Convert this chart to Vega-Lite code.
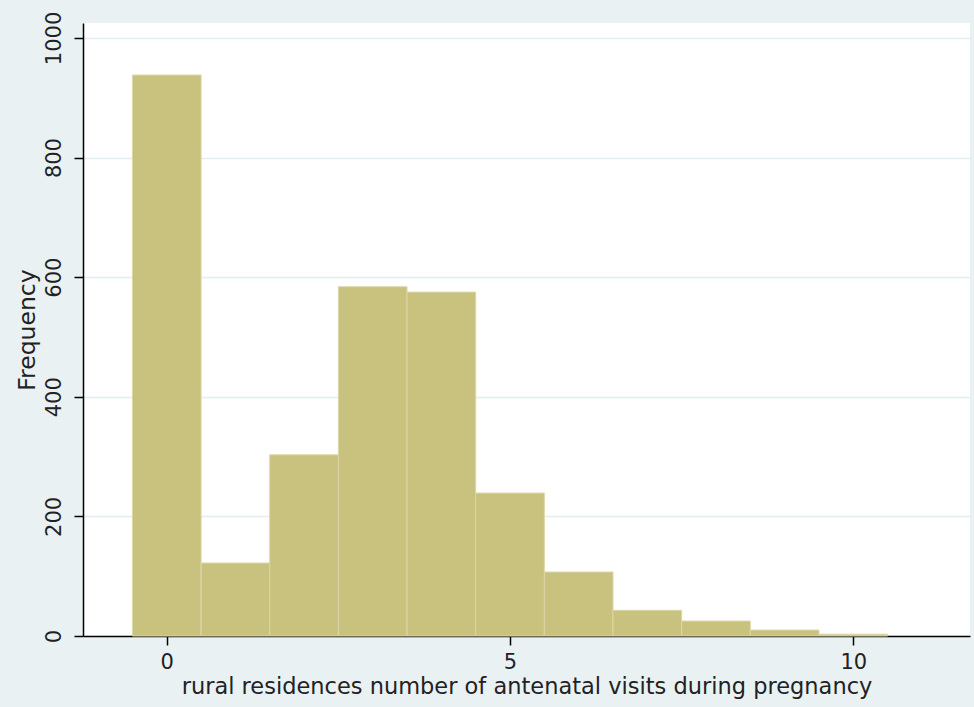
{
  "$schema": "https://vega.github.io/schema/vega-lite/v6.json",
  "autosize": "none",
  "width": 887,
  "height": 613,
  "padding": {"left": 83, "top": 23, "right": 4, "bottom": 71},
  "background": "#eaf1f3",
  "config": {
    "view": {"fill": "white", "stroke": null},
    "font": "DejaVu Sans"
  },
  "data": {
    "values": [
      {"start": -0.5, "end": 0.5, "freq": 938},
      {"start": 0.5, "end": 1.5, "freq": 122},
      {"start": 1.5, "end": 2.5, "freq": 303},
      {"start": 2.5, "end": 3.5, "freq": 584},
      {"start": 3.5, "end": 4.5, "freq": 575},
      {"start": 4.5, "end": 5.5, "freq": 239},
      {"start": 5.5, "end": 6.5, "freq": 107},
      {"start": 6.5, "end": 7.5, "freq": 43},
      {"start": 7.5, "end": 8.5, "freq": 25},
      {"start": 8.5, "end": 9.5, "freq": 10},
      {"start": 9.5, "end": 10.5, "freq": 3}
    ]
  },
  "mark": {"type": "rect", "fill": "#c9c27f", "stroke": "#dcd6a8", "strokeWidth": 1},
  "encoding": {
    "x": {
      "field": "start",
      "type": "quantitative",
      "scale": {"domain": [-1.22, 11.7], "nice": false, "zero": false},
      "axis": {
        "title": "rural residences number of antenatal visits during pregnancy",
        "values": [0, 5, 10],
        "format": "d",
        "grid": false,
        "domainColor": "black",
        "domainWidth": 1.5,
        "tickColor": "black",
        "tickSize": 9,
        "tickWidth": 1.5,
        "labelFontSize": 21,
        "labelColor": "#222",
        "labelPadding": 6,
        "titleFontSize": 22.5,
        "titleFontWeight": "normal",
        "titleColor": "#222",
        "titlePadding": 3
      }
    },
    "x2": {"field": "end"},
    "y": {
      "field": "freq",
      "type": "quantitative",
      "scale": {"domain": [0, 1025], "nice": false},
      "axis": {
        "title": "Frequency",
        "values": [0, 200, 400, 600, 800, 1000],
        "format": "d",
        "grid": true,
        "gridColor": "#e3eef0",
        "gridWidth": 1.5,
        "domainColor": "black",
        "domainWidth": 1.5,
        "tickColor": "black",
        "tickSize": 9,
        "tickWidth": 1.5,
        "labelAngle": -90,
        "labelAlign": "center",
        "labelBaseline": "bottom",
        "labelFontSize": 21,
        "labelColor": "#222",
        "labelPadding": 10,
        "titleFontSize": 23.5,
        "titleFontWeight": "normal",
        "titleColor": "#222",
        "titlePadding": 4
      }
    },
    "y2": {"datum": 0}
  }
}
